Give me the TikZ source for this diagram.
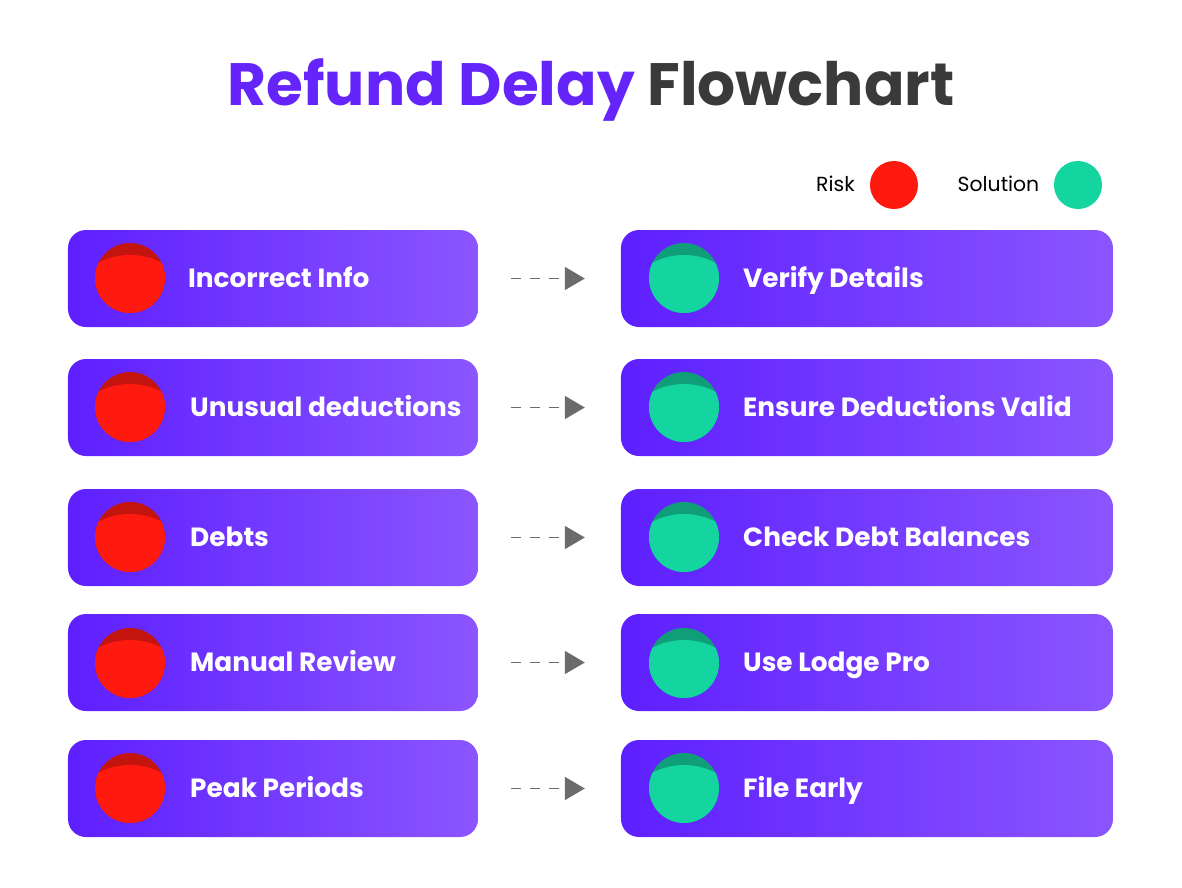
\documentclass[tikz,border=0pt]{standalone}
\usepackage{fontspec}
\setmainfont{Poppins}
\usetikzlibrary{arrows.meta,calc}
\definecolor{boxleft}{HTML}{5E1FFF}
\definecolor{boxright}{HTML}{8B55FF}
\definecolor{titlepurple}{HTML}{6424FA}
\definecolor{titlegray}{HTML}{3A3A3A}
\definecolor{riskred}{HTML}{FF1A10}
\definecolor{riskdark}{HTML}{C4140E}
\definecolor{solgreen}{HTML}{14D5A0}
\definecolor{soldark}{HTML}{0F9E78}
\definecolor{arrowgray}{HTML}{6B6B6B}
\tikzset{
	riskbox/.style={
			rounded corners=0.18cm, left color=boxleft, right color=boxright, draw=none,
			minimum width=4.1cm, minimum height=0.97cm, inner sep=0pt
		},
	solbox/.style={riskbox, minimum width=4.92cm},
	riskdot/.style={
			circle, fill=riskdark, minimum size=0.7cm, inner sep=0pt,
			path picture={\fill[riskred] ($(path picture bounding box.center)+(0,-0.45)$) circle (0.68);}
		},
	soldot/.style={
			circle, fill=soldark, minimum size=0.7cm, inner sep=0pt,
			path picture={\fill[solgreen] ($(path picture bounding box.center)+(0,-0.45)$) circle (0.68);}
		},
	boxtext/.style={anchor=base west, inner sep=0pt, text=white, font=\fontsize{7.5}{10}\selectfont\bfseries},
	legendtext/.style={anchor=base east, inner sep=0pt, text=black, font=\fontsize{5.8}{8}\selectfont},
	linkarrow/.style={
			-{Triangle[length=0.2cm,width=0.23cm]}, arrowgray, line width=0.19mm,
			dash pattern=on 0.1cm off 0.09cm, shorten <=0.32cm, shorten >=0.355cm
		}
}

\begin{document}
\begin{tikzpicture}
    \useasboundingbox (0, 0) rectangle (11.82, -8.88);
    \node[inner sep=0pt,anchor=base,font=\fontsize{17}{22}\selectfont\bfseries] (title) at (5.91, -1.055)
        {\textcolor{titlepurple}{Refund Delay} \textcolor{titlegray}{Flowchart}};
    % legend
    \node[circle,fill=riskred,minimum size=0.48cm,inner sep=0pt] (riskkey) at (8.94, -1.85) {};
    \node[circle,fill=solgreen,minimum size=0.48cm,inner sep=0pt] (solkey) at (10.78, -1.85) {};
    \node[legendtext] (risklabel) at (8.555, -1.91) {Risk};
    \node[legendtext] (sollabel) at (10.40, -1.91) {Solution};
    % left column
    \node[riskbox] (r1) at (2.73, -2.785) {};
    \node[riskbox] (r2) at (2.73, -4.075) {};
    \node[riskbox] (r3) at (2.73, -5.375) {};
    \node[riskbox] (r4) at (2.73, -6.625) {};
    \node[riskbox] (r5) at (2.73, -7.885) {};
    \node[riskdot] (rd1) at (1.30, -2.78) {};
    \node[riskdot] (rd2) at (1.30, -4.07) {};
    \node[riskdot] (rd3) at (1.30, -5.37) {};
    \node[riskdot] (rd4) at (1.30, -6.63) {};
    \node[riskdot] (rd5) at (1.30, -7.88) {};
    \node[boxtext] (rt1) at (1.875, -2.87) {Incorrect Info};
    \node[boxtext] (rt2) at (1.895, -4.16) {Unusual deductions};
    \node[boxtext] (rt3) at (1.895, -5.46) {Debts};
    \node[boxtext] (rt4) at (1.895, -6.71) {Manual Review};
    \node[boxtext] (rt5) at (1.895, -7.97) {Peak Periods};
    % right column
    \node[solbox] (s1) at (8.67, -2.785) {};
    \node[solbox] (s2) at (8.67, -4.075) {};
    \node[solbox] (s3) at (8.67, -5.375) {};
    \node[solbox] (s4) at (8.67, -6.625) {};
    \node[solbox] (s5) at (8.67, -7.885) {};
    \node[soldot] (sd1) at (6.84, -2.78) {};
    \node[soldot] (sd2) at (6.84, -4.07) {};
    \node[soldot] (sd3) at (6.84, -5.37) {};
    \node[soldot] (sd4) at (6.84, -6.63) {};
    \node[soldot] (sd5) at (6.84, -7.88) {};
    \node[boxtext] (st1) at (7.425, -2.87) {Verify Details};
    \node[boxtext] (st2) at (7.425, -4.16) {Ensure Deductions Valid};
    \node[boxtext] (st3) at (7.425, -5.46) {Check Debt Balances};
    \node[boxtext] (st4) at (7.425, -6.71) {Use Lodge Pro};
    \node[boxtext] (st5) at (7.425, -7.97) {File Early};
    % links
    \draw[linkarrow] (r1) -- (s1);
    \draw[linkarrow] (r2) -- (s2);
    \draw[linkarrow] (r3) -- (s3);
    \draw[linkarrow] (r4) -- (s4);
    \draw[linkarrow] (r5) -- (s5);
\end{tikzpicture}
\end{document}
